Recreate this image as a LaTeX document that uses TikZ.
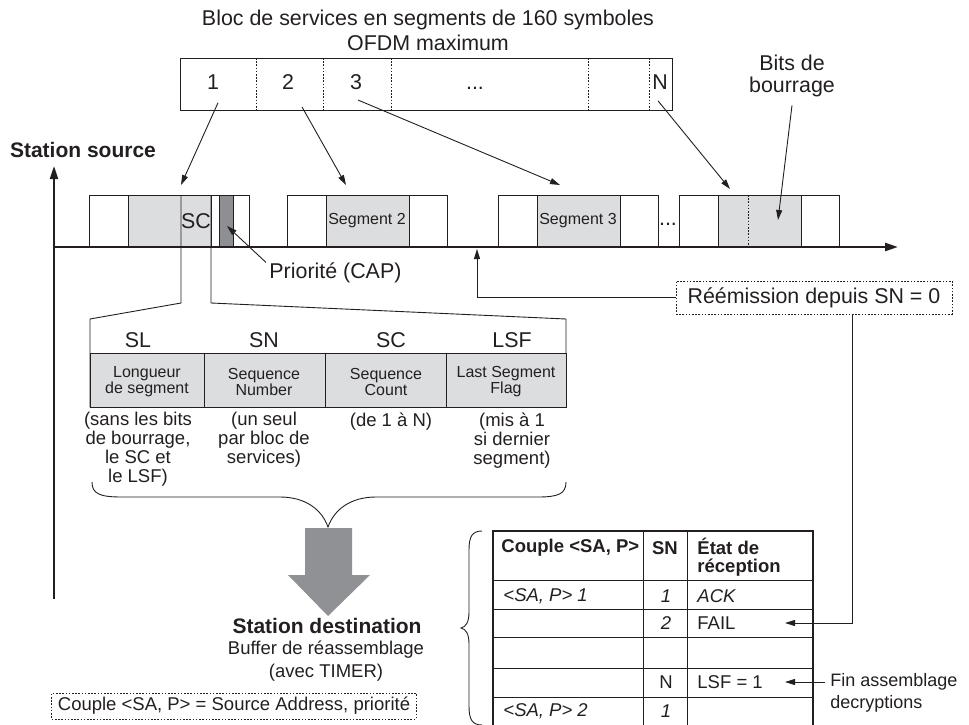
\documentclass[tikz,border=0pt]{standalone}
\usepackage{fontspec}
\setmainfont{Liberation Sans}
\usepackage{tikz}
\usetikzlibrary{arrows.meta,positioning}

\definecolor{ink}{HTML}{231F20}
\definecolor{segfill}{HTML}{DCDDDF}
\definecolor{capfill}{HTML}{8E8F92}
\definecolor{arrowfill}{HTML}{909195}

\begin{document}
\begin{tikzpicture}[x=1pt,y=-1pt,color=ink,line width=0.9pt,
  every node/.style={inner sep=0pt},
  big/.style={font=\fontsize{21.4}{25}\selectfont},
  mid/.style={font=\fontsize{18.5}{19}\selectfont},
  small/.style={font=\fontsize{16}{16}\selectfont},
  tab/.style={font=\fontsize{18.5}{18}\selectfont},
  tabit/.style={font=\fontsize{18.5}{18}\selectfont\itshape},
  tabbf/.style={font=\fontsize{18.5}{18}\selectfont\bfseries},
  arr/.style={-{Triangle[length=10pt,width=6pt]}},
  axisarr/.style={-{Triangle[length=13pt,width=8pt]}},
  dotline/.style={dash pattern=on 1.6pt off 1.6pt},
  dotbox/.style={draw,dotline}]
\useasboundingbox (0,0) rectangle (969,725);

% bloc de services
\node[big,align=center] (title) at (428,30.5) {Bloc de services en segments de 160 symboles\\OFDM maximum};
\draw (180,58) rectangle (672,110);
\foreach \x in {256,323,391,588,649}
  \draw[dotline] (\x,58) -- (\x,110);
\node[big] (b1) at (213,82) {1};
\node[big] (b2) at (288,82) {2};
\node[big] (b3) at (356,82) {3};
\node[big] (bdots) at (475,88) {...};
\node[big] (bN) at (660,82) {N};

% segments sur l'axe
\foreach \x in {89,287,498,679}{
  \draw[fill=white] (\x,195) rectangle ++(160,52);
  \draw[fill=segfill] (\x+39,195) rectangle ++(83,52);
}
\draw[fill=capfill] (219,195) rectangle (233,247);
\draw[dotline] (748,195) -- (748,247);
\node[font=\fontsize{21.4}{21}\selectfont] (sc) at (196,221) {SC};
\node[small] (seg2) at (367,221) {Segment 2};
\node[small] (seg3) at (578,221) {Segment 3};
\node[big] (sdots) at (668,224) {...};

\coordinate (t1) at (181,185);
\coordinate (t2) at (346,185);
\coordinate (t3) at (560,185);
\coordinate (tN) at (730,189);
\draw[arr] ([shift={(5,13)}]b1.south) -- (t1);
\draw[arr] ([shift={(14,17)}]b2.south) -- (t2);
\draw[arr] ([shift={(2,10)}]b3.south) -- (t3);
\draw[arr] ([shift={(-2,11)}]bN.south) -- (tN);

\node[font=\fontsize{21.4}{22}\selectfont,align=center] (bits) at (792,76) {Bits de\\bourrage};
\coordinate (bitsin) at (778,220);
\draw[arr] ([yshift=-8pt]bits.south) -- (bitsin);

% axes
\draw[line width=2pt,axisarr] (54,599) -- (54,166);
\draw[line width=2.5pt,axisarr] (54,247) -- (898,247);
\node[font=\fontsize{21}{24}\selectfont\bfseries] (source) at (83,150) {Station source};

\node[big,anchor=west] (cap) at (269,273) {Priorité (CAP)};
\coordinate (capin) at (227,226);
\draw[arr] ([xshift=-3pt]cap.north west) -- (capin);

% champs du segment
\draw (181,195) -- (181,303) -- (90,319) -- (90,407) -- (566,407) -- (566,319) -- (211,303) -- (211,195);
\draw[fill=segfill] (90,353) rectangle (566,407);
\foreach \x in {204,325,446}
  \draw (\x,353) -- (\x,407);
\foreach \n/\xh/\xf/\hd/\fld/\nt in {
  sl/138/147/SL/{Longueur\\de segment}/{(sans les bits\\de bourrage,\\le SC et\\le LSF)},
  sn/264/264/SN/{Sequence\\Number}/{(un seul\\par bloc de\\services)},
  sc/391/386/SC/{Sequence\\Count}/{(de 1 à N)},
  lsf/512/506/LSF/{Last Segment\\Flag}/{(mis à 1\\si dernier\\segment)}}{
  \node[big] (h\n) at (\xh,340) {\hd};
  \node[small,align=center] (f\n) at (\xf,382) {\fld};
  \node[mid,align=center,anchor=north] (n\n) at (\xh,412) {\nt};
}

\draw (92,482) .. controls (92,494) and (100,497) .. (122,497) -- (280,497)
  .. controls (306,497) and (322,510) .. (328,527)
  .. controls (334,510) and (350,497) .. (376,497) -- (538,497)
  .. controls (558,497) and (566,494) .. (566,482);
\fill[arrowfill] (305,528) -- (352,528) -- (352,575) -- (370,575) -- (328,616) -- (288,575) -- (305,575) -- cycle;

\node[font=\fontsize{21}{24}\selectfont\bfseries] (dest) at (327,626) {Station destination};
\node[font=\fontsize{18.5}{23}\selectfont,align=center] (buffer) at (326,661.5) {Buffer de réassemblage\\(avec TIMER)};
\node[dotbox,mid,inner xsep=6pt,minimum height=26pt] (legend) at (234,706) {Couple <SA, P> = Source Address, priorité};

% reemission
\node[dotbox,big,minimum width=276pt,minimum height=33pt] (reemit) at (814,297.5) {Réémission depuis SN = 0};
\coordinate (retx) at (477,249);
\draw[arr] (reemit.west) -| (retx);

% buffer de reassemblage
\draw[line width=1.3pt] (493,531) rectangle (813,729);
\foreach \y in {580,609,637,668,697}
  \draw (493,\y) -- (813,\y);
\foreach \x in {643,687}
  \draw (\x,531) -- (\x,729);
\node[tabbf,anchor=west] (hcouple) at (501,548) {Couple <SA, P>};
\node[tabbf] (hsn) at (665,548) {SN};
\node[tabbf,anchor=west,align=left] (hetat) at (697,557) {État de\\réception};
\node[tabit,anchor=west] (couple1) at (503,596) {<SA, P> 1};
\node[tabit] (sn1) at (666,596) {1};
\node[tabit,anchor=west] (ack) at (697,596) {ACK};
\node[tabit] (sn2) at (666,623) {2};
\node[tab,anchor=west] (fail) at (697,623) {FAIL};
\node[tab] (snN) at (666,682) {N};
\node[tab,anchor=west] (lsf) at (697,682) {LSF = 1};
\node[tabit,anchor=west] (couple2) at (503,711) {<SA, P> 2};
\node[tabit] (sn3) at (666,711) {1};

\draw (482,531) .. controls (472,531) and (469,537) .. (469,550) -- (469,612)
  .. controls (469,622) and (466,627) .. (461,628)
  .. controls (466,629) and (469,634) .. (469,644) -- (469,706)
  .. controls (469,719) and (472,725) .. (482,725);

\coordinate (failin) at (785,623);
\draw[arr] ([xshift=38pt]reemit.south) |- (failin);
\node[font=\fontsize{18}{22}\selectfont,anchor=west,align=left,inner xsep=5pt] (fin) at (825,693) {Fin assemblage\\decryptions};
\coordinate (lsfin) at (785,682);
\draw[arr] ([yshift=11pt]fin.west) -- (lsfin);
\end{tikzpicture}
\end{document}
